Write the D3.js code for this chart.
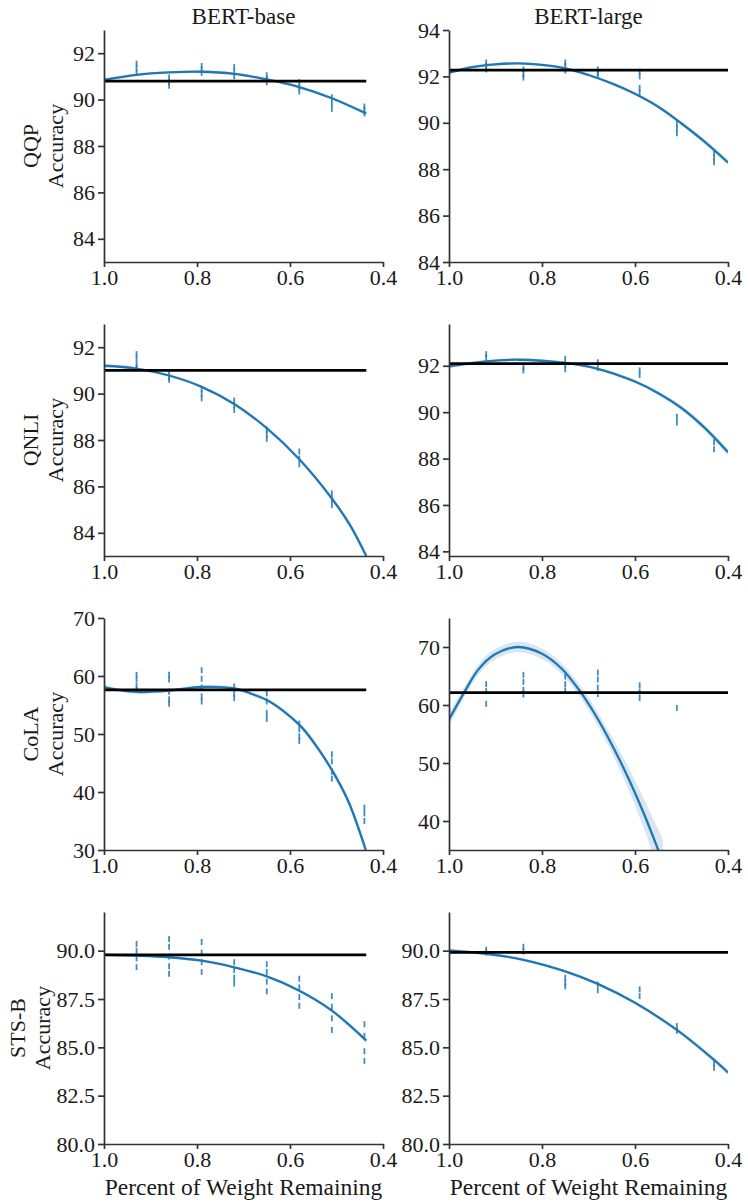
<!DOCTYPE html>
<html lang="en">
  <head>
    <meta charset="utf-8" />
    <title>Pruning accuracy</title>
    <script src="https://cdnjs.cloudflare.com/ajax/libs/d3/7.8.5/d3.min.js"></script>
    <style>
      body {
        margin: 0;
        background: #fff;
      }
      .axis path,
      .axis line {
        stroke: #333;
        stroke-width: 1.7px;
      }
      .label {
        font-family: "Liberation Serif", serif;
        fill: #1a1a1a;
      }
    </style>
  </head>
  <body>
    <svg id="chart" width="748" height="1204"></svg>
    <script>
      // ---- data ----
      const models = ["BERT-base", "BERT-large"];
      const tasks = ["QQP", "QNLI", "CoLA", "STS-B"];
      const xTicks = [1.0, 0.8, 0.6, 0.4];
      const xLabel = "Percent of Weight Remaining";

      // pruning levels where runs were measured
      const baseLevels = [0.93, 0.86, 0.79, 0.72, 0.65, 0.58, 0.51, 0.44];
      const largeLevels = [0.92, 0.84, 0.75, 0.68, 0.59, 0.51, 0.43];

      // unpruned accuracy (black line) and where that line stops
      const baseBaselines = [90.8, 91.0, 57.6, 89.78];
      const largeBaselines = [92.27, 92.09, 62.15, 89.91];
      const lineEnds = [0.436, 0.4];

      const baseYDomains = [[83, 93], [83, 93], [30, 70], [80, 92]];
      const largeYDomains = [[84, 94], [83.8, 93.8], [35, 75], [80, 92]];
      const baseYTicks = [
        [84, 86, 88, 90, 92],
        [84, 86, 88, 90, 92],
        [30, 40, 50, 60, 70],
        [80, 82.5, 85, 87.5, 90],
      ];
      const largeYTicks = [
        [84, 86, 88, 90, 92, 94],
        [84, 86, 88, 90, 92],
        [40, 50, 60, 70],
        [80, 82.5, 85, 87.5, 90],
      ];
      const rowFormats = ["d", "d", "d", ".1f"];

      // fitted curves: [weight remaining, accuracy, band half-width]
      const qqpBaseFit = [
        [1.0, 90.85, 0.06], [0.93, 91.07, 0.05], [0.86, 91.17, 0.05],
        [0.79, 91.2, 0.05], [0.72, 91.11, 0.05], [0.65, 90.87, 0.05],
        [0.58, 90.54, 0.05], [0.51, 90.06, 0.06], [0.436, 89.4, 0.08],
      ];
      const qqpLargeFit = [
        [1.0, 92.16, 0.08], [0.95, 92.4, 0.06], [0.9, 92.52, 0.05],
        [0.85, 92.56, 0.05], [0.8, 92.5, 0.05], [0.75, 92.35, 0.05],
        [0.7, 92.06, 0.05], [0.65, 91.7, 0.05], [0.6, 91.25, 0.06],
        [0.55, 90.69, 0.07], [0.5, 89.97, 0.08], [0.45, 89.18, 0.1],
        [0.4, 88.29, 0.12],
      ];
      const qnliBaseFit = [
        [1.0, 91.2, 0.06], [0.93, 91.08, 0.05], [0.86, 90.78, 0.05],
        [0.79, 90.29, 0.05], [0.72, 89.55, 0.05], [0.65, 88.51, 0.06],
        [0.58, 87.17, 0.07], [0.51, 85.48, 0.09], [0.47, 84.3, 0.11],
        [0.436, 83.0, 0.13],
      ];
      const qnliLargeFit = [
        [1.0, 91.97, 0.08], [0.92, 92.19, 0.06], [0.85, 92.26, 0.06],
        [0.75, 92.12, 0.06], [0.68, 91.87, 0.06], [0.6, 91.32, 0.07],
        [0.55, 90.82, 0.08], [0.5, 90.18, 0.1], [0.45, 89.32, 0.12],
        [0.4, 88.27, 0.15],
      ];
      const colaBaseFit = [
        [1.0, 58.1, 0.4], [0.97, 57.6, 0.3], [0.93, 57.25, 0.3],
        [0.86, 57.5, 0.3], [0.79, 58.1, 0.3], [0.72, 57.85, 0.3],
        [0.675, 56.7, 0.3], [0.646, 55.7, 0.3], [0.61, 53.7, 0.35],
        [0.574, 51.1, 0.4], [0.538, 47.3, 0.45], [0.502, 42.7, 0.55],
        [0.473, 38.1, 0.65], [0.437, 30.0, 0.8],
      ];
      const colaLargeFit = [
        [1.0, 57.5, 1.1], [0.966, 62.35, 0.9], [0.937, 66.1, 0.9],
        [0.902, 68.7, 0.9], [0.852, 70.0, 0.9], [0.8, 68.85, 0.9],
        [0.758, 66.3, 0.9], [0.718, 62.35, 1.0], [0.686, 58.4, 1.1],
        [0.65, 53.2, 1.4], [0.615, 47.5, 1.9], [0.579, 40.9, 2.6],
        [0.551, 35.2, 3.5], [0.54, 32.9, 3.9],
      ];
      const stsbBaseFit = [
        [1.0, 89.78, 0.06], [0.93, 89.74, 0.05], [0.86, 89.66, 0.05],
        [0.79, 89.48, 0.05], [0.72, 89.14, 0.05], [0.65, 88.67, 0.06],
        [0.58, 87.93, 0.07], [0.51, 86.9, 0.09], [0.436, 85.35, 0.12],
      ];
      const stsbLargeFit = [
        [1.0, 90.02, 0.08], [0.92, 89.84, 0.06], [0.84, 89.53, 0.06],
        [0.75, 88.93, 0.06], [0.68, 88.28, 0.06], [0.6, 87.3, 0.07],
        [0.51, 85.9, 0.09], [0.43, 84.35, 0.12], [0.4, 83.7, 0.14],
      ];

      // individual runs, one list per pruning level
      const qqpBasePts = [
        [91.55, 91.35, 91.15], [90.95, 90.75, 90.6], [91.45, 91.3, 91.15],
        [91.4, 91.2, 91.0], [91.05, 90.9, 90.75], [90.75, 90.55, 90.35],
        [90.1, 89.85, 89.6], [89.7, 89.55, 89.4],
      ];
      const qqpLargePts = [
        [92.6, 92.45, 92.3], [92.3, 92.1, 91.95], [92.6, 92.45, 92.25],
        [92.3, 92.15, 92.05], [92.2, 92.0, 91.5, 91.3], [89.95, 89.75, 89.55],
        [88.7, 88.5, 88.3],
      ];
      const qnliBasePts = [
        [91.7, 91.5, 91.25, 91.1], [90.9, 90.7, 90.6], [90.2, 90.0, 89.8],
        [89.7, 89.5, 89.3], [88.45, 88.25, 88.05], [87.5, 87.2, 86.95],
        [85.7, 85.45, 85.2], [],
      ];
      const qnliLargePts = [
        [92.5, 92.35], [91.95, 91.8], [92.3, 92.05, 91.85], [92.15, 91.9],
        [91.8, 91.6], [89.8, 89.55], [88.7, 88.4],
      ];
      const colaBasePts = [
        [60.2, 59.4, 58.3, 57.6], [60.2, 59.4, 57.3, 56.0, 55.2],
        [61.0, 59.5, 58.0, 56.5, 55.6], [58.2, 57.0, 56.2],
        [57.0, 55.6, 53.6, 52.6], [51.8, 50.8, 49.6, 48.8],
        [46.5, 45.3, 43.5, 42.3], [37.3, 36.3, 35.0],
      ];
      const colaLargePts = [
        [63.6, 62.4, 60.2], [65.2, 64.0, 62.6, 61.8], [64.9, 63.6, 62.5],
        [65.6, 64.4, 63.0, 61.9], [63.4, 62.3, 61.2], [59.5], [],
      ];
      const stsbBasePts = [
        [90.35, 90.0, 89.6, 89.15], [90.6, 90.2, 89.7, 89.2, 88.8],
        [90.45, 89.9, 89.4, 88.9], [89.4, 89.0, 88.6, 88.3],
        [89.3, 88.9, 88.4, 87.9], [88.55, 88.1, 87.6, 87.15],
        [87.65, 87.1, 86.5, 85.9], [86.2, 85.6, 84.8, 84.3],
      ];
      const stsbLargePts = [
        [90.05, 89.9], [90.2, 89.95], [88.6, 88.35, 88.15], [88.25, 87.95],
        [88.0, 87.65], [86.1, 85.85], [84.2, 83.95],
      ];

      const baseFits = [qqpBaseFit, qnliBaseFit, colaBaseFit, stsbBaseFit];
      const largeFits = [qqpLargeFit, qnliLargeFit, colaLargeFit, stsbLargeFit];
      const basePts = [qqpBasePts, qnliBasePts, colaBasePts, stsbBasePts];
      const largePts = [qqpLargePts, qnliLargePts, colaLargePts, stsbLargePts];

      // ---- layout ----
      const colX = [
        [104, 383],
        [449, 728],
      ];
      const rowY = [
        [30, 262],
        [324, 556],
        [618, 850],
        [912, 1144],
      ];
      // x of the first y-label line per row (STS-B ticks are wider)
      const ylabelX = [38, 38, 38, 25];
      const blue = "#1f77b4";
      const serif = '"Liberation Serif", "Times New Roman", serif';

      const svg = d3.select("#chart");
      const smooth = d3.curveCatmullRom.alpha(0.5);

      // serif tick labels, set directly so they beat d3's defaults
      const styleAxis = (g) =>
        g
          .attr("font-family", serif)
          .attr("font-size", 22)
          .call((g) =>
            g
              .selectAll("text")
              .style("font-family", serif)
              .style("font-size", "22px")
              .attr("fill", "#1a1a1a")
          );

      tasks.forEach((task, r) => {
        models.forEach((model, c) => {
          const fit = c === 0 ? baseFits[r] : largeFits[r];
          const pts = c === 0 ? basePts[r] : largePts[r];
          const levels = c === 0 ? baseLevels : largeLevels;
          const baseline = c === 0 ? baseBaselines[r] : largeBaselines[r];
          const yDomain = c === 0 ? baseYDomains[r] : largeYDomains[r];
          const yTicks = c === 0 ? baseYTicks[r] : largeYTicks[r];

          const [top, bottom] = rowY[r];
          const x = d3.scaleLinear().domain([1.0, 0.4]).range(colX[c]);
          const y = d3.scaleLinear().domain(yDomain).range([bottom, top]);

          const clipId = `clip-${r}-${c}`;
          svg
            .append("clipPath")
            .attr("id", clipId)
            .append("rect")
            .attr("x", colX[c][0])
            .attr("y", top)
            .attr("width", colX[c][1] - colX[c][0])
            .attr("height", bottom - top);

          const g = svg.append("g").attr("clip-path", `url(#${clipId})`);

          // confidence band
          g.append("path")
            .datum(fit)
            .attr("fill", blue)
            .attr("fill-opacity", 0.18)
            .attr(
              "d",
              d3
                .area()
                .x((d) => x(d[0]))
                .y0((d) => y(d[1] - d[2]))
                .y1((d) => y(d[1] + d[2]))
                .curve(smooth)
            );

          // runs as short vertical dashes
          const runs = [];
          pts.forEach((vals, i) => vals.forEach((v) => runs.push([levels[i], v])));
          g.selectAll("line.run")
            .data(runs)
            .join("line")
            .attr("class", "run")
            .attr("x1", (d) => x(d[0]))
            .attr("x2", (d) => x(d[0]))
            .attr("y1", (d) => y(d[1]) - 3)
            .attr("y2", (d) => y(d[1]) + 3)
            .attr("stroke", blue)
            .attr("stroke-opacity", 0.85)
            .attr("stroke-width", 1.8);

          // fitted curve
          g.append("path")
            .datum(fit)
            .attr("fill", "none")
            .attr("stroke", blue)
            .attr("stroke-width", 2.3)
            .attr(
              "d",
              d3
                .line()
                .x((d) => x(d[0]))
                .y((d) => y(d[1]))
                .curve(smooth)
            );

          // unpruned baseline
          g.append("line")
            .attr("x1", x(1.0))
            .attr("x2", x(lineEnds[c]))
            .attr("y1", y(baseline))
            .attr("y2", y(baseline))
            .attr("stroke", "#000")
            .attr("stroke-width", 2.7);

          // axes
          svg
            .append("g")
            .attr("class", "axis")
            .attr("transform", `translate(0,${bottom})`)
            .call(
              d3
                .axisBottom(x)
                .tickValues(xTicks)
                .tickFormat(d3.format(".1f"))
                .tickSize(5)
                .tickSizeOuter(0)
                .tickPadding(2)
            )
            .call(styleAxis);
          svg
            .append("g")
            .attr("class", "axis")
            .attr("transform", `translate(${colX[c][0]},0)`)
            .call(
              d3
                .axisLeft(y)
                .tickValues(yTicks)
                .tickFormat(d3.format(rowFormats[r]))
                .tickSize(6)
                .tickSizeOuter(0)
                .tickPadding(3)
            )
            .call(styleAxis);

          const cx = (colX[c][0] + colX[c][1]) / 2;
          if (r === 0) {
            svg
              .append("text")
              .attr("class", "label")
              .attr("x", cx)
              .attr("y", 24)
              .attr("text-anchor", "middle")
              .style("font-size", "23px")
              .text(model);
          }
          if (r === tasks.length - 1) {
            svg
              .append("text")
              .attr("class", "label")
              .attr("x", cx)
              .attr("y", 1195)
              .attr("text-anchor", "middle")
              .style("font-size", "23.5px")
              .text(xLabel);
          }
          if (c === 0) {
            const cy = (top + bottom) / 2;
            [task, "Accuracy"].forEach((t, k) => {
              svg
                .append("text")
                .attr("class", "label")
                .attr(
                  "transform",
                  `translate(${ylabelX[r] + k * 25},${cy}) rotate(-90)`
                )
                .attr("text-anchor", "middle")
                .style("font-size", "22px")
                .text(t);
            });
          }
        });
      });
    </script>
  </body>
</html>
